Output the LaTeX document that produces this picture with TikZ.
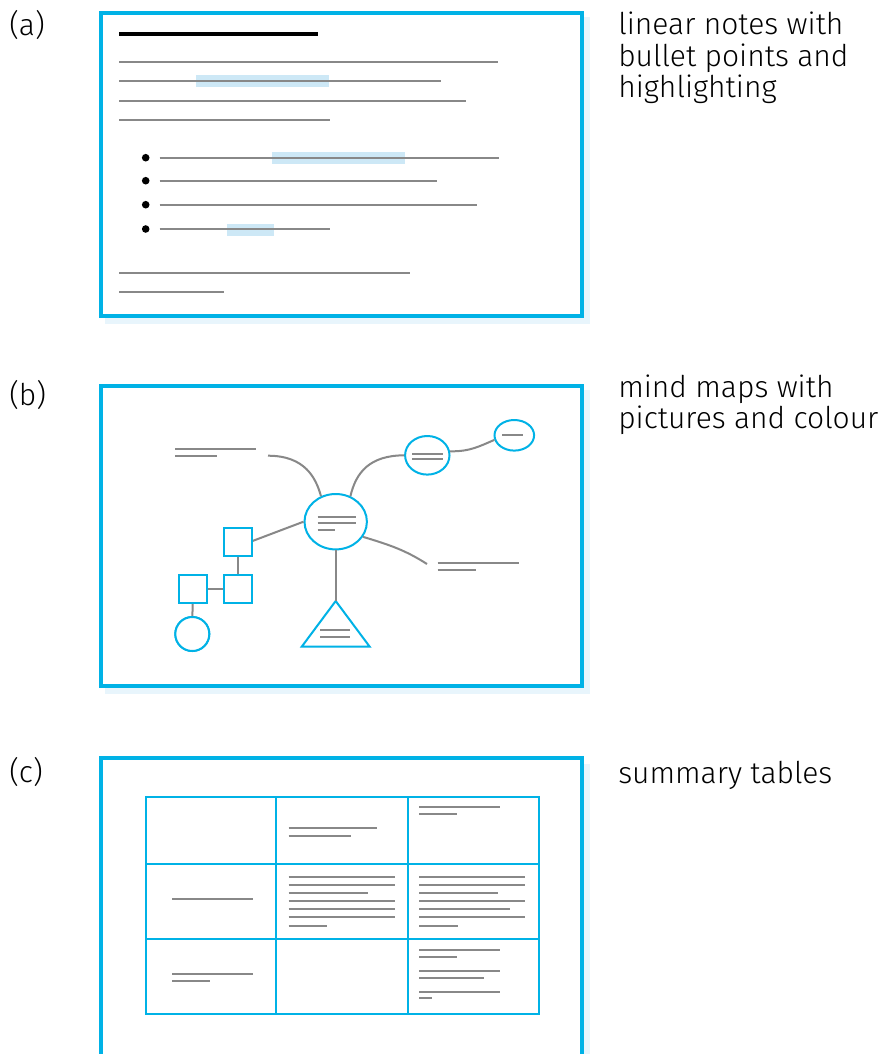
\documentclass[tikz,border=0pt]{standalone}
\usepackage{fontspec}
\setmainfont{Fira Sans Light}
\usetikzlibrary{shapes.geometric}
\definecolor{bl}{RGB}{0,178,230}
\definecolor{hl}{RGB}{205,232,246}
\definecolor{gr}{RGB}{136,136,136}
\definecolor{sh}{RGB}{232,245,252}
\begin{document}
\begin{tikzpicture}[x=0.75pt,y=-0.75pt,
  frame/.style={draw=bl,line width=3pt,fill=white},
  shadowbox/.style={fill=sh},
  txt/.style={draw=gr,line width=1.5pt},
  hi/.style={fill=hl},
  bar/.style={draw=black,line width=3pt},
  bullet/.style={fill=black},
  lbl/.style={font=\fontsize{22.5pt}{24pt}\selectfont,anchor=base west,inner sep=0pt},
  blshape/.style={draw=bl,line width=1.5pt,inner sep=0pt,fill=white},
  conn/.style={draw=gr,line width=1.5pt},
  cell/.style={draw=bl,line width=1.5pt}]
\useasboundingbox (0,0) rectangle (885,1054);
\clip (0,0) rectangle (885,1054);

% ---------- labels ----------
\node[lbl] (la) at (9,35.5) {(a)};
\node[lbl] (lb) at (9,405.5) {(b)};
\node[lbl] (lc) at (9,782.5) {(c)};
\node[lbl] (ta1) at (618,34.5) {linear notes with};
\node[lbl] (ta2) at (618,66.5) {bullet points and};
\node[lbl] (ta3) at (618,97.5) {highlighting};
\node[lbl] (tb1) at (618,397) {mind maps with};
\node[lbl] (tb2) at (618,428.5) {pictures and colour};
\node[lbl] (tc1) at (618,783) {summary tables};

% ---------- panel (a) ----------
\fill[shadowbox] (105,17) rectangle (590,324);
\path[frame] (101,13) rectangle (582,316);
\fill[hi] (196,75) rectangle (329,86.7);
\fill[hi] (272,152) rectangle (405,164);
\fill[hi] (227,224) rectangle (274,236);
\draw[bar] (119,33.7) -- (318,33.7);
\draw[txt] (119,62) -- (498,62);
\draw[txt] (119,80.7) -- (441,80.7);
\draw[txt] (119,100.7) -- (466,100.7);
\draw[txt] (119,120.3) -- (330,120.3);
\foreach \y/\e in {157.7/499,180.7/437,204.7/477,229/330}{
  \fill[bullet] (145.7,\y) circle (3.8);
  \draw[txt] (159.7,\y) -- (\e,\y);
}
\draw[txt] (119,273.3) -- (410,273.3);
\draw[txt] (119,292) -- (224,292);

% ---------- panel (b) ----------
\fill[shadowbox] (105,390) rectangle (590,694);
\path[frame] (101,386) rectangle (582,686);
\draw[txt] (175,449) -- (256,449);
\draw[txt] (175,455.7) -- (217,455.7);
\draw[txt] (437.7,563.3) -- (519,563.3);
\draw[txt] (437.7,570) -- (475.7,570);
\coordinate (endA) at (268,455.7);
\coordinate (endD) at (427,564);

\node[blshape,ellipse,minimum width=62.4*0.75pt,minimum height=55.4*0.75pt] (cen) at (335.7,521.7) {};
\node[blshape,ellipse,minimum width=44.4*0.75pt,minimum height=38.6*0.75pt] (e2) at (427.3,455.3) {};
\node[blshape,ellipse,minimum width=39.6*0.75pt,minimum height=30.6*0.75pt] (e3) at (514.3,435.3) {};
\node[blshape,rectangle,minimum size=28*0.75pt] (sq1) at (237.5,542.2) {};
\node[blshape,rectangle,minimum size=28*0.75pt] (sq2) at (237.5,588.9) {};
\node[blshape,rectangle,minimum size=28*0.75pt] (sq3) at (192.7,588.9) {};
\node[blshape,circle,minimum size=34*0.75pt] (circ) at (192.3,634) {};
\coordinate (apex) at (335.7,601);
\coordinate (bl) at (301.7,646.7);
\coordinate (br) at (369.7,646.7);
\draw[blshape,line join=miter] (apex) -- (br) -- (bl) -- cycle;

\draw[conn] (endA) .. controls (305,455.7) and (316,478) .. (cen.120);
\draw[conn] (cen.60) .. controls (356,472) and (370,455.5) .. (e2.west);
\draw[conn] (e2.10) .. controls (470,451.7) and (480,446) .. (e3.193);
\draw[conn] (cen.-29) .. controls (390,545) and (405,550) .. (endD);
\draw[conn] (cen.south) -- (apex);
\draw[conn] (cen.west) -- (sq1.east |- 0,541);
\draw[conn] (sq1) -- (sq2);
\draw[conn] (sq3) -- (sq2);
\draw[conn] (sq3) -- (circ);
% redraw shapes over connectors
\node[blshape,rectangle,minimum size=28*0.75pt] at (sq1) {};
\node[blshape,rectangle,minimum size=28*0.75pt] at (sq2) {};
\node[blshape,rectangle,minimum size=28*0.75pt] at (sq3) {};
\node[blshape,circle,minimum size=34*0.75pt] at (circ) {};
\draw[txt] (317.7,516.7) -- (355.7,516.7);
\draw[txt] (317.7,523.3) -- (355.7,523.3);
\draw[txt] (317.7,530) -- (335,530);
\draw[txt] (412.3,453.7) -- (442.7,453.7);
\draw[txt] (412.3,458.7) -- (442.7,458.7);
\draw[txt] (502.3,435) -- (523.3,435);
\draw[txt] (320.3,630) -- (350,630);
\draw[txt] (320.3,636.7) -- (350,636.7);

% ---------- panel (c) ----------
\fill[shadowbox] (105,764) rectangle (590,1070);
\path[frame] (101,758) rectangle (582,1070);
\draw[cell] (145.7,796.7) rectangle (539.3,1014);
\draw[cell] (275.7,796.7) -- (275.7,1014);
\draw[cell] (408.3,796.7) -- (408.3,1014);
\draw[cell] (145.7,864.3) -- (539.3,864.3);
\draw[cell] (145.7,939) -- (539.3,939);
\begin{scope}[txt/.append style={line width=1.3pt}]
\draw[txt] (288.7,828.3) -- (377.3,828.3);
\draw[txt] (288.7,835.7) -- (351,835.7);
\draw[txt] (419.3,807) -- (500.3,807);
\draw[txt] (419.3,813.7) -- (456.7,813.7);
\draw[txt] (172,899) -- (253.3,899);
\foreach \y/\e in {876.7/395,884.7/395,892.7/367.7,900.7/395,909/395,917.3/395,925.7/327}
  \draw[txt] (288.7,\y) -- (\e,\y);
\foreach \y/\e in {876.7/525,884.7/525,892.7/498.3,900.7/525,909/510,917.3/525,925.7/457.7}
  \draw[txt] (419.3,\y) -- (\e,\y);
\draw[txt] (172,974.3) -- (253.3,974.3);
\draw[txt] (172,981) -- (209.7,981);
\foreach \y/\e in {950.3/500.3,957/456.7,971.3/500.3,978.3/484,991.7/500.3,998.3/432.3}
  \draw[txt] (419.3,\y) -- (\e,\y);
\end{scope}
\end{tikzpicture}
\end{document}
